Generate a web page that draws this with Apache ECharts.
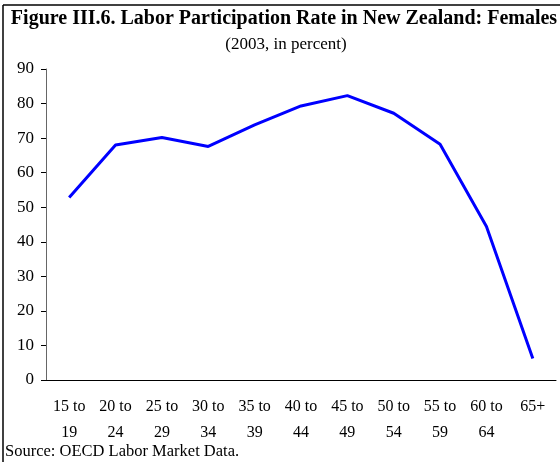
<!DOCTYPE html>
<html>
<head>
<meta charset="utf-8">
<script src="https://cdn.jsdelivr.net/npm/echarts@6/dist/echarts.min.js"></script>
<style>
    html, body {
        margin: 0;
        padding: 0;
        background: #fff;
    }
    #main {
        width: 560px;
        height: 462px;
    }
</style>
</head>
<body>
<div id="main"></div>
<script type="text/javascript">
    var ageGroups = ['15 to\n19', '20 to\n24', '25 to\n29', '30 to\n34', '35 to\n39', '40 to\n44',
        '45 to\n49', '50 to\n54', '55 to\n59', '60 to\n64', '65+'];
    var femaleRate = [52.8, 68.0, 70.2, 67.6, 73.8, 79.3, 82.3, 77.2, 68.2, 44.4, 6.2];

    var serif = '"Liberation Serif", "Times New Roman", serif';
    var myChart = echarts.init(document.getElementById('main'));

    option = {
        backgroundColor: '#fff',
        animation: false,
        title: [{
            text: 'Figure III.6. Labor Participation Rate in New Zealand: Females',
            left: 284,
            top: 9,
            padding: 0,
            textAlign: 'center',
            textStyle: { fontFamily: serif, fontSize: 20, fontWeight: 'bold', color: '#000' }
        }, {
            text: '(2003, in percent)',
            left: 286,
            top: 36,
            padding: 0,
            textAlign: 'center',
            textStyle: { fontFamily: serif, fontSize: 17, fontWeight: 'normal', color: '#000' }
        }, {
            text: 'Source: OECD Labor Market Data.',
            left: 5,
            top: 443,
            padding: 0,
            textStyle: { fontFamily: serif, fontSize: 16.5, fontWeight: 'normal', color: '#000' }
        }],
        graphic: [
            { type: 'line', shape: { x1: 3, y1: 5, x2: 560, y2: 5 }, style: { stroke: '#000', lineWidth: 1.5 } },
            { type: 'line', shape: { x1: 3, y1: 5, x2: 3, y2: 462 }, style: { stroke: '#000', lineWidth: 1.5 } }
        ],
        grid: {
            left: 46,
            right: 4,
            top: 69,
            bottom: 82
        },
        xAxis: [{
            type: 'category',
            data: ageGroups,
            boundaryGap: true,
            axisLine: { lineStyle: { color: '#000', width: 1 } },
            axisTick: { alignWithLabel: false, length: 5, lineStyle: { color: '#000' } },
            axisLabel: {
                interval: 0,
                margin: 14,
                fontFamily: serif,
                fontSize: 16,
                lineHeight: 26,
                color: '#000'
            }
        }],
        yAxis: [{
            type: 'value',
            min: 0,
            max: 90,
            interval: 10,
            splitLine: { show: false },
            axisLine: { show: true, lineStyle: { color: '#666', width: 1 } },
            axisTick: { show: true, length: 5, lineStyle: { color: '#000' } },
            axisLabel: {
                margin: 12,
                fontFamily: serif,
                fontSize: 17,
                color: '#000'
            }
        }],
        series: [{
            name: 'Females',
            type: 'line',
            data: femaleRate,
            showSymbol: false,
            symbol: 'none',
            lineStyle: { color: '#0000ff', width: 3 }
        }]
    };

    myChart.setOption(option);
</script>
</body>
</html>
